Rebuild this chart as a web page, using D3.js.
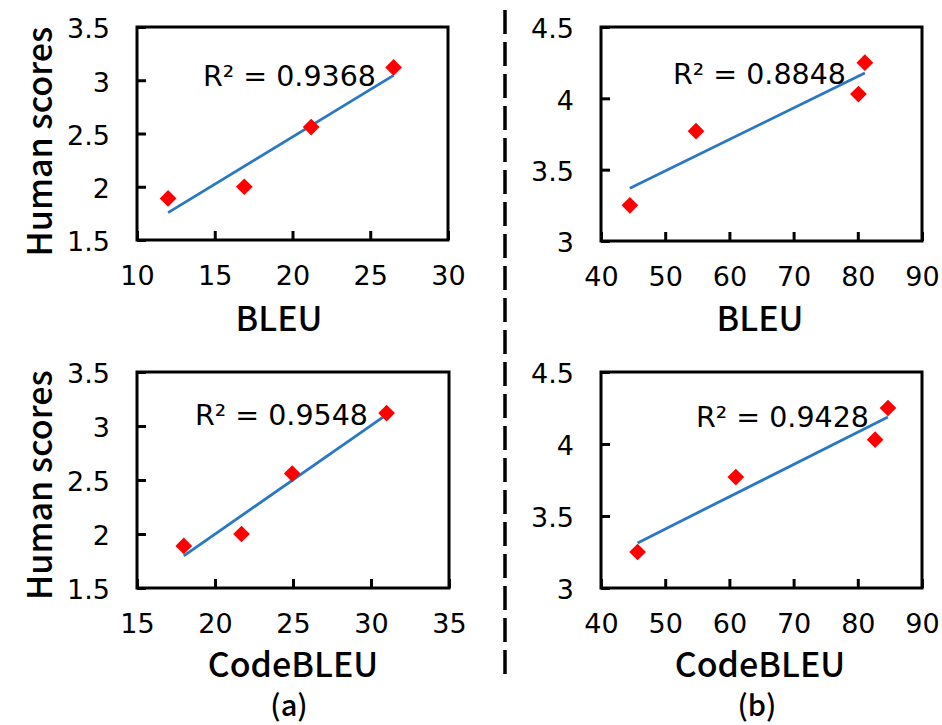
<!DOCTYPE html>
<html>
<head>
<meta charset="utf-8">
<script src="https://cdn.jsdelivr.net/npm/d3@7"></script>
<style>
  body { margin: 0; background: #fff; }
  svg { display: block; }
</style>
</head>
<body>
<svg id="chart" width="942" height="725"></svg>
<script>
// human scores (y) for the two groups
const humanA = [1.89, 2.00, 2.56, 3.12];
const humanB = [3.25, 3.77, 4.03, 4.25];
// metric scores (x)
const bleuA = [12.0, 16.9, 21.2, 26.5];
const codeBleuA = [18.0, 21.7, 24.95, 31.0];
const bleuB = [44.5, 54.8, 80.1, 81.1];
const codeBleuB = [45.7, 61.0, 82.7, 84.7];
// tick values
const xTicksBleuA = [10, 15, 20, 25, 30];
const xTicksCodeA = [15, 20, 25, 30, 35];
const xTicksB = [40, 50, 60, 70, 80, 90];
const yTicksA = [1.5, 2, 2.5, 3, 3.5];
const yTicksB = [3, 3.5, 4, 4.5];
// labels
const r2Labels = ["R\u00b2 = 0.9368", "R\u00b2 = 0.8848", "R\u00b2 = 0.9548", "R\u00b2 = 0.9428"];
const xTitles = ["BLEU", "BLEU", "CodeBLEU", "CodeBLEU"];
const yTitle = "Human scores";
const subLabels = ["(a)", "(b)"];

const panels = [
  {x: bleuA, y: humanA, xt: xTicksBleuA, yt: yTicksA, box: [137, 448, 27, 240], r2: [203, 86], title: 279, yLab: true},
  {x: bleuB, y: humanB, xt: xTicksB, yt: yTicksB, box: [601, 922, 27, 241], r2: [673, 84], title: 760, yLab: false},
  {x: codeBleuA, y: humanA, xt: xTicksCodeA, yt: yTicksA, box: [137, 449, 372, 588], r2: [195, 425], title: 293, yLab: true},
  {x: codeBleuB, y: humanB, xt: xTicksB, yt: yTicksB, box: [601, 922, 372, 588], r2: [696, 427], title: 760, yLab: false}
];

const svg = d3.select('#chart');
const tickFont = '"DejaVu Sans", sans-serif';
const titleFont = '"Noto Sans CJK SC", "Noto Sans", sans-serif';

function fit(xs, ys) {
  const mx = d3.mean(xs), my = d3.mean(ys);
  const sxy = d3.sum(xs, (v, i) => (v - mx) * (ys[i] - my));
  const sxx = d3.sum(xs, v => (v - mx) ** 2);
  const b = sxy / sxx;
  return v => my + b * (v - mx);
}

panels.forEach((p, i) => {
  const [x0, x1, y0, y1] = p.box;
  const xs = d3.scaleLinear().domain(d3.extent(p.xt)).range([x0, x1]);
  const ys = d3.scaleLinear().domain(d3.extent(p.yt)).range([y1, y0]);
  const g = svg.append('g');

  const xa = g.append('g').attr('transform', `translate(0,${y1})`)
    .call(d3.axisBottom(xs).tickValues(p.xt).tickSize(-9).tickPadding(26).tickFormat(d3.format('d')));
  const ya = g.append('g').attr('transform', `translate(${x0},0)`)
    .call(d3.axisLeft(ys).tickValues(p.yt).tickSize(-9).tickPadding(27).tickFormat(d => String(d)));
  [xa, ya].forEach(a => {
    a.select('.domain').remove();
    a.selectAll('line').attr('stroke', '#000').attr('stroke-width', 3);
    a.selectAll('text').attr('fill', '#000').style('font-family', tickFont).style('font-size', '27px');
  });
  ya.selectAll('text').attr('dy', '0.4em');

  g.append('rect').attr('x', x0).attr('y', y0).attr('width', x1 - x0).attr('height', y1 - y0)
    .attr('fill', 'none').attr('stroke', '#000').attr('stroke-width', 3);

  // linear trendline
  const f = fit(p.x, p.y);
  const ext = d3.extent(p.x);
  g.append('path')
    .attr('d', d3.line().x(d => xs(d)).y(d => ys(f(d)))(ext))
    .attr('stroke', '#2a78c2').attr('stroke-width', 2.8).attr('fill', 'none');

  g.selectAll('.pt').data(p.x.map((v, k) => [v, p.y[k]])).join('path')
    .attr('class', 'pt')
    .attr('d', d3.symbol(d3.symbolSquare, 140)())
    .attr('transform', d => `translate(${xs(d[0])},${ys(d[1])}) rotate(45)`)
    .attr('fill', '#ff0000');

  g.append('text').attr('x', p.r2[0]).attr('y', p.r2[1])
    .style('font-family', tickFont).style('font-size', '28.5px').attr('fill', '#000')
    .text(r2Labels[i]);

  g.append('text').attr('x', p.title).attr('y', i < 2 ? 331 : 677).attr('text-anchor', 'middle')
    .style('font-family', titleFont).style('font-size', '34px').style('font-weight', 500).attr('fill', '#000')
    .text(xTitles[i]);

  if (p.yLab) {
    g.append('text').attr('transform', `translate(52,${(y0 + y1) / 2 + (i < 2 ? 8 : 5)}) rotate(-90)`)
      .attr('text-anchor', 'middle')
      .style('font-family', titleFont).style('font-size', '34px').style('font-weight', 500).attr('fill', '#000')
      .text(yTitle);
  }
});

svg.selectAll('.sub').data(subLabels).join('text')
  .attr('class', 'sub')
  .attr('x', (d, i) => i === 0 ? 289 : 757).attr('y', 716).attr('text-anchor', 'middle')
  .style('font-family', titleFont).style('font-size', '29px').style('font-weight', 500).attr('fill', '#000')
  .text(d => d);

svg.append('line').attr('x1', 505).attr('x2', 505).attr('y1', 10).attr('y2', 682)
  .attr('stroke', '#000').attr('stroke-width', 3.5).attr('stroke-dasharray', '24 8');
</script>
</body>
</html>
